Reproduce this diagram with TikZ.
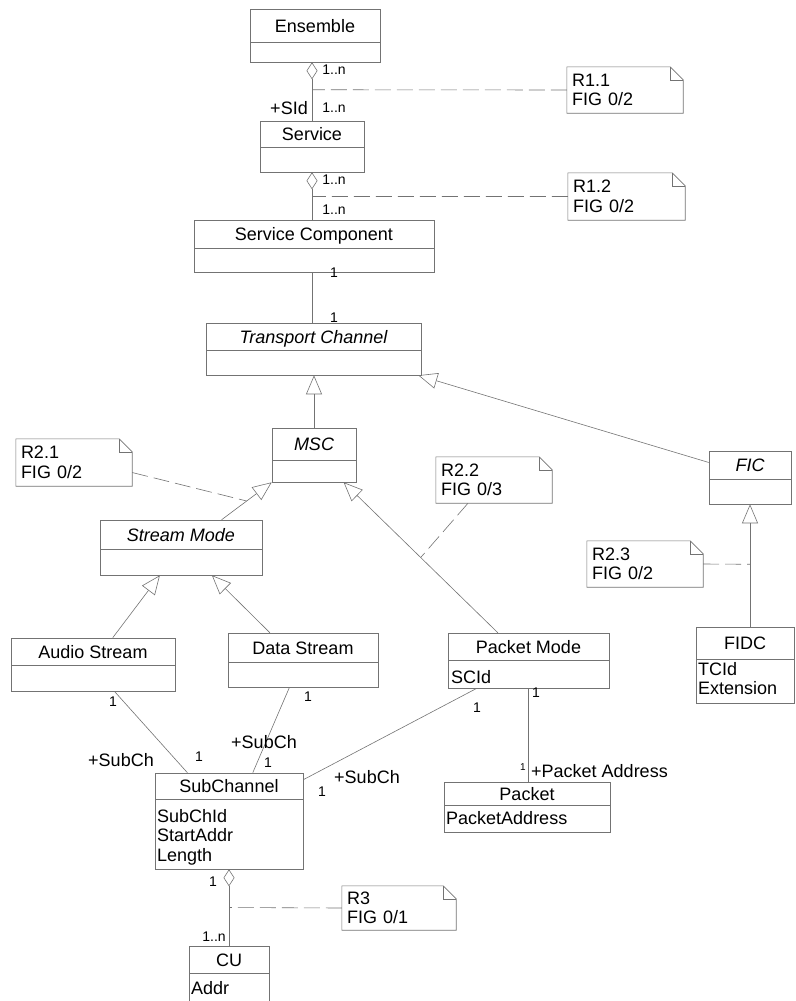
\documentclass[tikz,border=0pt]{standalone}
\usepackage{fontspec}
\setmainfont{Liberation Sans}
\usetikzlibrary{math,calc,arrows.meta}

\begin{document}
\begin{tikzpicture}[x=1pt,y=-1pt]
\tikzset{
  box/.style={draw=black!55, line width=.6pt, inner sep=0pt},
  big/.style={font=\fontsize{18}{19.5}\selectfont, inner sep=0pt},
  mult/.style={font=\fontsize{14}{16}\selectfont, inner sep=0pt},
  link/.style={draw=black!55, line width=.6pt},
  gen/.style={link, -{Triangle[open, length=19pt, width=16pt]}},
  agg/.style={link, {Diamond[open, length=17pt, width=11pt]}-},
  noteline/.style={link, dash pattern=on 16pt off 6pt},
}
\useasboundingbox (0,0) rectangle (795,1001);
% Classes
\foreach \n/\xa/\ya/\xb/\yb/\yd/\t in {
    ens/250/9/380/62/42/Ensemble,
    svc/260/121/364/172/147/Service,
    sc/194/220/434/272/248/Service Component,
    tc/206/323/421/375/350/{\itshape Transport Channel},
    msc/272/428/356/482/460/{\itshape MSC},
    sm/100/520/262/575/549/{\itshape Stream Mode},
    fic/709/451/791/504/479/{\itshape FIC},
    aud/11/638/175/691/665/Audio Stream,
    dat/228/633/378/687/662/Data Stream,
    pm/448/633/609/688/660/Packet Mode,
    fidc/696/627/794/703/659/FIDC,
    sub/155/773/303/869/799/SubChannel,
    pkt/444/782/610/832/805/Packet,
    cu/189/946/269/1004/973/CU} {
  \tikzmath{\bw=\xb-\xa; \bh=\yb-\ya; \cx=(\xa+\xb)/2; \cy=(\ya+\yb)/2; \ty=(\ya+\yd)/2+6.5;}
  \node[box, minimum width=\bw pt, minimum height=\bh pt] (\n) at (\cx,\cy) {};
  \draw[link] (\xa,\yd) -- (\xb,\yd);
  \node[big, anchor=base] (\n-t) at (\cx,\ty) {\t};
}
% Attributes
\foreach \n/\x/\y/\t in {pm/451/670/SCId, fidc/698/662/{TCId\\Extension},
    sub/157/809/{SubChId\\StartAddr\\Length}, pkt/446/811/PacketAddress, cu/191/981/Addr}
  \node[big, anchor=north west, align=left] (\n-a) at (\x,\y) {\t};
% Notes
\foreach \n/\xa/\ya/\xb/\yb/\t in {
    n11/567/67/683/113/{R1.1\\FIG 0/2},
    n12/568/173/685/220/{R1.2\\FIG 0/2},
    n21/16/439/132/486/{R2.1\\FIG 0/2},
    n22/436/457/552/503/{R2.2\\FIG 0/3},
    n23/587/541/703/587/{R2.3\\FIG 0/2},
    n3/342/886/456/930/{R3\\FIG 0/1}} {
  \tikzmath{\bw=\xb-\xa-10; \bh=\yb-\ya; \cx=(\xa+\xb)/2; \cy=(\ya+\yb)/2;}
  \node[big, inner sep=5pt, text width=\bw pt, minimum height=\bh pt, align=left] (\n) at (\cx,\cy) {\t};
  \draw[link] (\n.north west) -- ([xshift=-13pt]\n.north east) -- ([yshift=-13pt]\n.north east)
    -- (\n.south east) -- (\n.south west) -- cycle;
  \draw[link] ([xshift=-13pt]\n.north east) |- ([yshift=-13pt]\n.north east);
}
% Aggregations
\draw[agg] (svc.north |- ens.south) -- coordinate[pos=.47] (a1) (svc.north);
\draw[agg] (svc.south) -- coordinate[pos=.51] (a2) (svc.south |- sc.north);
\draw[link] (svc.south |- sc.south) -- (svc.south |- tc.north);
\draw[agg] (sub.south) -- coordinate[pos=.5] (a3) (sub.south |- cu.north);
% Generalizations
\draw[gen] (msc.north) -- (msc.north |- tc.south);
\draw[gen] (fic.160) -- ([xshift=-3pt]tc.south east);
\draw[gen] ($(sm.north west)!.75!(sm.north east)$) -- coordinate[pos=.5] (g21) (msc.south west);
\draw[gen] ($(pm.north west)!.31!(pm.north east)$) -- coordinate[pos=.5] (g22)
  ($(msc.south west)!.85!(msc.south east)$);
\draw[gen] ($(aud.north west)!.62!(aud.north east)$) -- ($(sm.south west)!.37!(sm.south east)$);
\draw[gen] ($(dat.north west)!.28!(dat.north east)$) -- ($(sm.south west)!.69!(sm.south east)$);
\draw[gen] (fic.south |- fidc.north) -- coordinate[pos=.51] (g23) (fic.south);
% Associations
\draw[link] ($(aud.south west)!.63!(aud.south east)$) -- ($(sub.north west)!.22!(sub.north east)$);
\draw[link] ($(dat.south west)!.41!(dat.south east)$) -- ($(sub.north west)!.66!(sub.north east)$);
\draw[link] ($(pm.south west)!.18!(pm.south east)$) -- ([yshift=-7pt]sub.north east);
\draw[link] (pm.south) -- (pm.south |- pkt.north);
% Note links
\draw[noteline] (n11.west) -- (a1);
\draw[noteline] (n12.west) -- (a2);
\draw[noteline] ([yshift=-10pt]n21.east) -- (g21);
\draw[noteline] ([xshift=-26pt]n22.south) -- (g22);
\draw[noteline] (n23.east) -- (g23);
\draw[noteline] (n3.west) -- (a3);
% Multiplicities
\foreach \x/\y/\t [count=\i] in {334/70/{1..n}, 334/108/{1..n}, 334/180/{1..n}, 334/210/{1..n},
    334/273/1, 334/318/1, 113/702/1, 199/757/1, 308/697/1, 268/763/1, 477/708/1,
    322/792/1, 536/693/1, 213/882/1, 214/937/{1..n}}
  \node[mult] (m\i) at (\x,\y) {\t};
\node[mult, font=\fontsize{10}{12}\selectfont] (m16) at (523,767) {1};
% Roles
\foreach \x/\y/\t [count=\i] in {289/108/+SId, 121/760/+SubCh, 264/742/+SubCh, 367/777/+SubCh}
  \node[big] (r\i) at (\x,\y) {\t};
\node[big, anchor=west] (r5) at (531,771) {+Packet Address};
\end{tikzpicture}
\end{document}
